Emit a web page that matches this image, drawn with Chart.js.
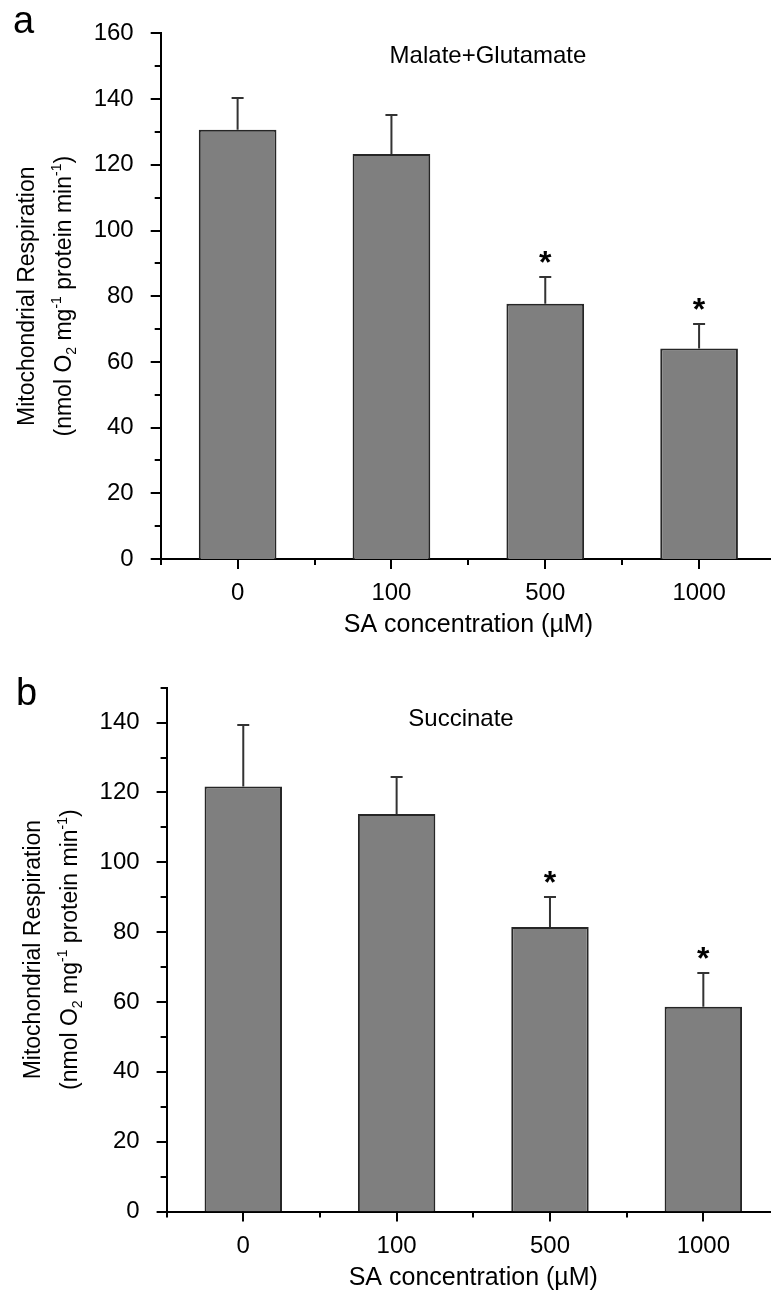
<!DOCTYPE html>
<html>
<head>
<meta charset="utf-8">
<script src="https://cdn.jsdelivr.net/npm/chart.js@4.4.1/dist/chart.umd.min.js"></script>
<style>
  html, body { margin: 0; padding: 0; background: #fff; overflow: hidden; }
  canvas { display: block; }
</style>
</head>
<body>
<canvas id="panelA" width="780" height="650"></canvas>
<canvas id="panelB" width="780" height="643"></canvas>
<script>
// SA concentration (µM)
const categories = ["0", "100", "500", "1000"];

// panel a: Malate+Glutamate
const malateGlutamate = [130.7, 123.3, 77.7, 64.1];
const malateGlutamateErr = [9.7, 11.9, 8.1, 7.5];

// panel b: Succinate
const succinate = [121.7, 113.8, 81.5, 58.6];
const succinateErr = [17.6, 10.5, 8.5, 9.6];

// * = significant vs control
const significant = [false, false, true, true];

const yTicksA = [0, 20, 40, 60, 80, 100, 120, 140, 160];
const yTicksB = [0, 20, 40, 60, 80, 100, 120, 140];

const FONT = "'Liberation Sans', Arial, Helvetica, sans-serif";
const INK = "#000";

// draws error bars, stars, tick marks, titles
const decorPlugin = {
  id: "decor",
  afterDraw(chart, args, opts) {
    const { ctx, chartArea } = chart;
    const x = chart.scales.x;
    const y = chart.scales.y;
    const meta = chart.getDatasetMeta(0);
    const vals = chart.data.datasets[0].data;
    ctx.save();

    // error bars (upper only)
    ctx.strokeStyle = "#333";
    ctx.lineWidth = 2;
    opts.errors.forEach((e, i) => {
      const bar = meta.data[i];
      const top = Math.round(y.getPixelForValue(vals[i] + e));
      ctx.beginPath();
      ctx.moveTo(bar.x, bar.y);
      ctx.lineTo(bar.x, top);
      ctx.moveTo(bar.x - 6, top);
      ctx.lineTo(bar.x + 6, top);
      ctx.stroke();
      if (opts.marks[i]) {
        ctx.fillStyle = INK;
        ctx.font = "bold 32px " + FONT;
        ctx.textAlign = "center";
        ctx.textBaseline = "alphabetic";
        ctx.fillText("*", bar.x, top - 22 + 18);
      }
    });

    // y tick marks: major at labels, minor in between
    ctx.strokeStyle = INK;
    ctx.lineWidth = 2;
    ctx.beginPath();
    for (let v = y.min; v <= y.max; v += 10) {
      const py = Math.round(y.getPixelForValue(v));
      const len = opts.yTicks.includes(v) ? 10 : 6;
      ctx.moveTo(chartArea.left - len, py);
      ctx.lineTo(chartArea.left, py);
    }
    // x tick marks: major at categories, minor at boundaries
    categories.forEach((c, i) => {
      const px = Math.round(x.getPixelForValue(i));
      ctx.moveTo(px, chartArea.bottom);
      ctx.lineTo(px, chartArea.bottom + 10);
    });
    for (let i = 0; i <= categories.length; i++) {
      const px = Math.round(x.getPixelForValue(i - 0.5));
      ctx.moveTo(px, chartArea.bottom);
      ctx.lineTo(px, chartArea.bottom + 6);
    }
    ctx.stroke();

    // panel letter
    ctx.fillStyle = INK;
    ctx.textAlign = "left";
    ctx.textBaseline = "alphabetic";
    ctx.font = "38px " + FONT;
    ctx.fillText(opts.letter, opts.letterPos[0], opts.letterPos[1]);

    // substrate title inside plot
    ctx.font = "24px " + FONT;
    ctx.textAlign = "center";
    ctx.textBaseline = "middle";
    ctx.fillText(opts.title, opts.titlePos[0], opts.titlePos[1]);

    // y axis title, two lines, rotated
    const cy = (chartArea.top + chartArea.bottom) / 2;
    const size = 23;
    ctx.save();
    ctx.translate(opts.yTitleX[0] + size * 0.36, cy);
    ctx.rotate(-Math.PI / 2);
    ctx.font = size + "px " + FONT;
    ctx.textAlign = "center";
    ctx.textBaseline = "alphabetic";
    ctx.fillText("Mitochondrial Respiration", 0, 0);
    ctx.restore();

    const parts = [
      ["(nmol O", 0],
      ["2", 1],
      [" mg", 0],
      ["-1", -1],
      [" protein min", 0],
      ["-1", -1],
      [")", 0]
    ];
    const small = Math.round(size * 0.6);
    let total = 0;
    parts.forEach(p => {
      ctx.font = (p[1] ? small : size) + "px " + FONT;
      total += ctx.measureText(p[0]).width;
    });
    ctx.save();
    ctx.translate(opts.yTitleX[1] + size * 0.36, cy);
    ctx.rotate(-Math.PI / 2);
    ctx.textAlign = "left";
    ctx.textBaseline = "alphabetic";
    let tx = -total / 2;
    parts.forEach(p => {
      ctx.font = (p[1] ? small : size) + "px " + FONT;
      const dy = p[1] === 1 ? size * 0.22 : p[1] === -1 ? -size * 0.45 : 0;
      ctx.fillText(p[0], tx, dy);
      tx += ctx.measureText(p[0]).width;
    });
    ctx.restore();

    ctx.restore();
  }
};

function makePanel(id, values, errors, yMax, yTicks, fit, decor) {
  return new Chart(document.getElementById(id), {
    type: "bar",
    data: {
      labels: categories,
      datasets: [{
        data: values,
        backgroundColor: "#7f7f7f",
        borderColor: "#262626",
        borderWidth: 2,
        barPercentage: 0.505,
        categoryPercentage: 1
      }]
    },
    options: {
      responsive: false,
      animation: false,
      layout: { padding: { top: fit.top, right: fit.right, left: 0, bottom: 0 } },
      plugins: {
        legend: { display: false },
        tooltip: { enabled: false },
        decor: Object.assign({ errors: errors, marks: significant, yTicks: yTicks }, decor)
      },
      scales: {
        x: {
          grid: { display: false },
          border: { display: true, color: INK, width: 2 },
          ticks: { color: INK, padding: 12, font: { family: FONT, size: 24 } },
          title: {
            display: true,
            text: "SA concentration (µM)",
            color: INK,
            font: { family: FONT, size: 25, lineHeight: 1.2 },
            padding: { top: 0, bottom: fit.titlePad }
          },
          afterFit: s => { s.height = fit.xHeight; }
        },
        y: {
          min: 0,
          max: yMax,
          grid: { display: false },
          border: { display: true, color: INK, width: 2 },
          ticks: {
            stepSize: 10,
            color: INK,
            padding: 19,
            font: { family: FONT, size: 24 },
            callback: v => (yTicks.includes(v) ? v : "")
          },
          afterFit: s => { s.width = fit.yWidth; }
        }
      }
    },
    plugins: [decorPlugin]
  });
}

makePanel("panelA", malateGlutamate, malateGlutamateErr, 160, yTicksA,
  { top: 20.5, right: 4, xHeight: 91, yWidth: 160.7, titlePad: 10 },
  { letter: "a", letterPos: [13, 33], title: "Malate+Glutamate", titlePos: [488, 56], yTitleX: [25.5, 63] });

makePanel("panelB", succinate, succinateErr, 150, yTicksB,
  { top: 37.7, right: 0, xHeight: 81.5, yWidth: 166.6, titlePad: 0 },
  { letter: "b", letterPos: [16, 55], title: "Succinate", titlePos: [461, 69], yTitleX: [31.5, 69] });
</script>
</body>
</html>
